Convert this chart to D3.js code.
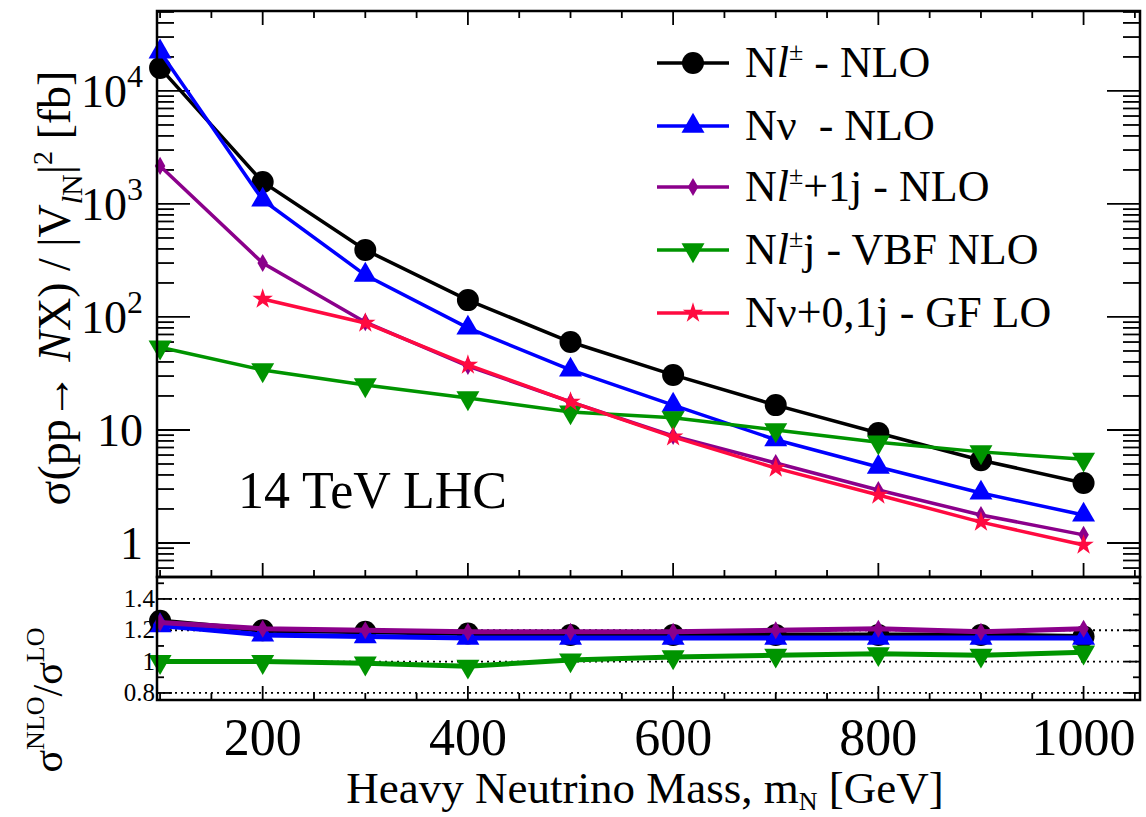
<!DOCTYPE html>
<html>
<head>
<meta charset="utf-8">
<script src="https://cdn.jsdelivr.net/npm/d3@7"></script>
<style>
  body { margin: 0; background: #fff; }
</style>
</head>
<body>
<div id="wrapper"></div>
<script>
// heavy neutrino mass points [GeV]
const masses = [100, 200, 300, 400, 500, 600, 700, 800, 900, 1000]
const massesGF = [200, 300, 400, 500, 600, 700, 800, 900, 1000]

// cross sections [fb]
const xsecLep   = [16000, 1566, 392, 141, 60, 30.7, 16.6, 9.4, 5.4, 3.4]
const xsecNu    = [22200, 1085, 235, 80, 34, 16.6, 8.2, 4.7, 2.77, 1.77]
const xsecLepJ  = [2170, 300, 90, 36.8, 17.7, 8.85, 5.1, 2.94, 1.77, 1.18]
const xsecVBF   = [54, 34, 25, 19.2, 14.4, 12.8, 10, 7.8, 6.4, 5.5]
const xsecGF    = [144, 88.5, 37.6, 17.7, 8.7, 4.6, 2.66, 1.53, 0.96]

// K-factors sigma_NLO / sigma_LO
const kLep  = [1.26, 1.20, 1.19, 1.18, 1.17, 1.17, 1.17, 1.17, 1.17, 1.16]
const kNu   = [1.23, 1.17, 1.16, 1.15, 1.15, 1.15, 1.15, 1.15, 1.15, 1.15]
const kLepJ = [1.25, 1.21, 1.20, 1.19, 1.19, 1.19, 1.20, 1.21, 1.19, 1.21]
const kVBF  = [1.00, 1.00, 0.99, 0.97, 1.01, 1.03, 1.04, 1.05, 1.04, 1.06]

const xTicks = [200, 400, 600, 800, 1000]
const yTicksTop = [1, 10, 100, 1000, 10000]
const yTicksBottom = [0.8, 1, 1.2, 1.4]

const width = 1146
const height = 817
const serif = "'Liberation Serif', 'Times New Roman', Times, serif"

const svg = d3.select("#wrapper").append("svg")
  .attr("width", width)
  .attr("height", height)
  .style("font-family", serif)

const xScale = d3.scaleLinear().domain([97, 1055]).range([157, 1140])
const yTop = d3.scaleLog().domain([0.5, 51000]).range([577, 11])
const yBot = d3.scaleLinear().domain([0.755, 1.54]).range([700, 577])

const fLeft = 157, fRight = 1140, fTop = 11, fMid = 577, fBottom = 700

const symbols = {
  circle: d3.symbol().type(d3.symbolCircle).size(380),
  up: d3.symbol().type(d3.symbolTriangle).size(229),
  down: d3.symbol().type(d3.symbolTriangle).size(229),
  diamond: d3.symbol().type(d3.symbolDiamond).size(95),
  star: d3.symbol().type(d3.symbolStar).size(130)
}

const series = [
  { x: masses, y: xsecLep, k: kLep, color: "#000000", sym: "circle" },
  { x: masses, y: xsecNu, k: kNu, color: "#0000ff", sym: "up" },
  { x: masses, y: xsecLepJ, k: kLepJ, color: "#8b008b", sym: "diamond" },
  { x: masses, y: xsecVBF, k: kVBF, color: "#009400", sym: "down" },
  { x: massesGF, y: xsecGF, k: null, color: "#ff0a40", sym: "star" }
]

function marker(g, s, cx, cy) {
  g.append("path")
    .attr("d", symbols[s.sym]())
    .attr("fill", s.color)
    .attr("transform", `translate(${cx},${cy})` + (s.sym == "down" ? " rotate(180)" : ""))
}

// dotted grid in lower panel
svg.append("g").selectAll("line").data(yTicksBottom).enter().append("line")
  .attr("x1", fLeft).attr("x2", fRight)
  .attr("y1", d => yBot(d)).attr("y2", d => yBot(d))
  .attr("stroke", "#000").attr("stroke-width", 1.8)
  .attr("stroke-dasharray", "2,4")

// ticks
const ticks = svg.append("g").attr("stroke", "#000").attr("stroke-width", 1.8)
d3.range(100, 1051, 50).forEach(v => {
  const len = v % 200 == 0 ? 14 : 7
  const x = xScale(v)
  ticks.append("line").attr("x1", x).attr("x2", x).attr("y1", fTop).attr("y2", fTop + len)
  ticks.append("line").attr("x1", x).attr("x2", x).attr("y1", fMid).attr("y2", fMid - len)
  ticks.append("line").attr("x1", x).attr("x2", x).attr("y1", fBottom).attr("y2", fBottom - len)
})
for (let e = -1; e <= 4; e++) {
  for (let m = 1; m <= 9; m++) {
    const v = m * Math.pow(10, e)
    if (v < 0.5 || v > 51000) continue
    const len = m == 1 ? 33 : 17
    const y = yTop(v)
    ticks.append("line").attr("x1", fLeft).attr("x2", fLeft + len).attr("y1", y).attr("y2", y)
    ticks.append("line").attr("x1", fRight).attr("x2", fRight - len).attr("y1", y).attr("y2", y)
  }
}
d3.range(0.8, 1.55, 0.1).forEach(v => {
  const major = Math.abs(Math.round(v * 10) % 2) == 0
  const len = major ? 15 : 7
  const y = yBot(v)
  ticks.append("line").attr("x1", fLeft).attr("x2", fLeft + len).attr("y1", y).attr("y2", y)
  ticks.append("line").attr("x1", fRight).attr("x2", fRight - len).attr("y1", y).attr("y2", y)
})

// upper panel curves
const upper = svg.append("g")
series.forEach(s => {
  const line = d3.line().x((d, i) => xScale(s.x[i])).y(d => yTop(d))
  upper.append("path").datum(s.y)
    .attr("d", line)
    .attr("fill", "none")
    .attr("stroke", s.color)
    .attr("stroke-width", 3.5)
  s.y.forEach((v, i) => marker(upper, s, xScale(s.x[i]), yTop(v)))
})

// lower panel curves
const lower = svg.append("g")
series.filter(s => s.k).forEach(s => {
  const line = d3.line().x((d, i) => xScale(s.x[i])).y(d => yBot(d))
  lower.append("path").datum(s.k)
    .attr("d", line)
    .attr("fill", "none")
    .attr("stroke", s.color)
    .attr("stroke-width", 5)
  s.k.forEach((v, i) => marker(lower, s, xScale(s.x[i]), yBot(v)))
})

// frames
svg.append("rect").attr("x", fLeft).attr("y", fTop)
  .attr("width", fRight - fLeft).attr("height", fMid - fTop)
  .attr("fill", "none").attr("stroke", "#000").attr("stroke-width", 2.5)
svg.append("rect").attr("x", fLeft).attr("y", fMid)
  .attr("width", fRight - fLeft).attr("height", fBottom - fMid)
  .attr("fill", "none").attr("stroke", "#000").attr("stroke-width", 2.5)

// x tick labels
svg.append("g").selectAll("text").data(xTicks).enter().append("text")
  .attr("x", d => xScale(d)).attr("y", 755)
  .attr("text-anchor", "middle")
  .attr("font-size", 52)
  .text(d => d)

// upper y tick labels
const yl = svg.append("g")
yTicksTop.forEach(v => {
  const t = yl.append("text")
    .attr("x", 143).attr("y", yTop(v) + 16)
    .attr("text-anchor", "end")
    .attr("font-size", 46)
  if (v < 100) {
    t.text(v)
  } else {
    t.append("tspan").text("10")
    t.append("tspan").attr("dy", -20).attr("font-size", 32).text(Math.log10(v))
  }
})

// lower y tick labels
svg.append("g").selectAll("text").data(yTicksBottom).enter().append("text")
  .attr("x", 155).attr("y", d => yBot(d) + 8)
  .attr("text-anchor", "end")
  .attr("font-size", 25)
  .text(d => d == 1 ? "1" : d3.format(".1f")(d))

// x axis title
const xt = svg.append("text")
  .attr("x", 645).attr("y", 803)
  .attr("text-anchor", "middle")
  .attr("font-size", 45)
xt.append("tspan").text("Heavy Neutrino Mass, m")
xt.append("tspan").attr("dy", 7).attr("font-size", 26).text("N")
xt.append("tspan").attr("dy", -7).text("  [GeV]")

// upper y title
const yt = svg.append("text")
  .attr("transform", "translate(70,288) rotate(-90)")
  .attr("text-anchor", "middle")
  .attr("font-size", 46)
yt.append("tspan").text("σ(pp→ ")
yt.append("tspan").attr("font-style", "italic").text("N")
yt.append("tspan").text("X) / |V")
yt.append("tspan").attr("dy", 12).attr("font-size", 30).attr("font-style", "italic").text("l")
yt.append("tspan").attr("font-size", 30).text("N")
yt.append("tspan").attr("dy", -12).text("|")
yt.append("tspan").attr("dy", -18).attr("font-size", 28).text("2")
yt.append("tspan").attr("dy", 18).text(" [fb]")

// lower y title
const kt = svg.append("text")
  .attr("transform", "translate(62,700) rotate(-90)")
  .attr("text-anchor", "middle")
  .attr("font-size", 42)
kt.append("tspan").text("σ")
kt.append("tspan").attr("dy", -18).attr("font-size", 26).text("NLO")
kt.append("tspan").attr("dy", 18).text("/σ")
kt.append("tspan").attr("dy", -18).attr("font-size", 26).text("LO")

// energy label
svg.append("text")
  .attr("x", 238).attr("y", 508)
  .attr("font-size", 52)
  .text("14 TeV LHC")

// legend
const legendLabels = [
  [["N"], ["l", "i"], ["±", "sup"], [" - NLO"]],
  [["Nν  - NLO"]],
  [["N"], ["l", "i"], ["±", "sup"], ["+1j - NLO"]],
  [["N"], ["l", "i"], ["±", "sup"], ["j - VBF NLO"]],
  [["Nν+0,1j - GF LO"]]
]
const legendRowY = [63, 126, 187, 250, 313]
const legend = svg.append("g")
series.forEach((s, i) => {
  const y = legendRowY[i]
  legend.append("line").attr("x1", 657).attr("x2", 729).attr("y1", y).attr("y2", y)
    .attr("stroke", s.color).attr("stroke-width", 3.5)
  marker(legend, s, 693, y)
  const t = legend.append("text").attr("x", 745).attr("y", y + 14)
    .attr("font-size", 44).attr("xml:space", "preserve")
  let shifted = false
  legendLabels[i].forEach(([str, kind]) => {
    const ts = t.append("tspan").text(str)
    if (kind == "i") ts.attr("font-style", "italic")
    if (kind == "sup") { ts.attr("dy", -17).attr("font-size", 26); shifted = true }
    else if (shifted) { ts.attr("dy", 17); shifted = false }
  })
})
</script>
</body>
</html>
